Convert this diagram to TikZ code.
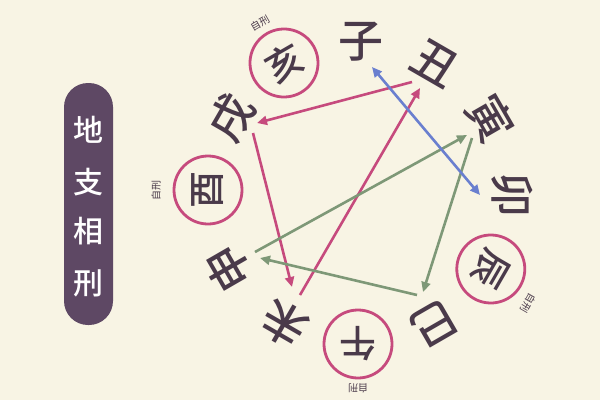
\documentclass[tikz,border=0pt]{standalone}
\usepackage{fontspec}
\usetikzlibrary{arrows.meta}
\newfontfamily\cjk{Noto Sans CJK SC}
\newfontfamily\cjkm{Noto Sans CJK SC}[UprightFont={* Medium}]
\definecolor{bg}{HTML}{F8F4E4}
\definecolor{ink}{HTML}{4A3A4A}
\definecolor{boxc}{HTML}{5E4864}
\definecolor{pinkc}{HTML}{C64A7D}
\definecolor{greenc}{HTML}{7E9877}
\definecolor{bluec}{HTML}{6A7FCF}
\begin{document}
\begin{tikzpicture}[x=1pt,y=-1pt,
  zhi/.style={font=\cjkm\fontsize{45}{45}\selectfont, text=ink, inner sep=0pt},
  zhic/.style={circle, draw=pinkc, line width=2.8pt, minimum size=68pt, inner sep=0pt,
    font=\cjkm\fontsize{37}{37}\selectfont, text=ink},
  zx/.style={font=\cjk\fontsize{10}{10}\selectfont, text=ink, inner sep=0pt},
  ttl/.style={font=\cjkm\fontsize{30}{30}\selectfont, text=white},
  arr/.style={line width=2.6pt, -{Triangle[length=10pt,width=9pt]}},
  darr/.style={line width=2.6pt, {Triangle[length=10pt,width=9pt]}-{Triangle[length=10pt,width=9pt]}}]
\fill[bg] (0,0) rectangle (600,400);
\useasboundingbox (0,0) rectangle (600,400);

% title
\node (title) [fill=boxc, rounded corners=24pt, minimum width=49pt, minimum height=242pt,
  inner sep=0pt] at (88.5,204) {};
\node (t1) [ttl] at (88.5,130) {地};
\node (t2) [ttl] at (88.5,182) {支};
\node (t3) [ttl] at (88.5,231) {相};
\node (t4) [ttl] at (88.5,283) {刑};

% branches
\node (zi)   [zhi, rotate=0]    at (361,42) {子};
\node (chou) [zhi, rotate=-30]  at (435.5,63) {丑};
\node (yin)  [zhi, rotate=-60]  at (490.8,118) {寅};
\node (mao)  [zhi, rotate=-90]  at (512,195) {卯};
\node (chen) [zhic, rotate=-120] at (490.8,269) {辰};
\node (si)   [zhi, rotate=-150] at (434,323.8) {巳};
\node (wu)   [zhic, rotate=180] at (358,344) {午};
\node (wei)  [zhi, rotate=150]  at (284.5,323.8) {未};
\node (shen) [zhi, rotate=120]  at (228,268.5) {申};
\node (you)  [zhic, rotate=90]  at (208,190) {酉};
\node (xu)   [zhi, rotate=60]   at (231,117.5) {戌};
\node (hai)  [zhic, rotate=30]  at (284,63) {亥};

% self-punishment labels
\node (hx) [zx, rotate=30]   at (260,23) {自刑};
\node (yx) [zx, rotate=90]   at (156,190) {自刑};
\node (wx) [zx, rotate=180]  at (358,388) {自刑};
\node (cx) [zx, rotate=-120] at (528,303) {自刑};

% arrow end points
\coordinate (chouA) at (412,82);
\coordinate (xuA)   at (257,123);
\coordinate (xuB)   at (253,133);
\coordinate (weiA)  at (292,287);
\coordinate (weiB)  at (300,295);
\coordinate (chouB) at (420,88);
\coordinate (shenA) at (255,252);
\coordinate (yinA)  at (467,135);
\coordinate (yinB)  at (472,138);
\coordinate (siA)   at (423,292);
\coordinate (siB)   at (417,295);
\coordinate (shenB) at (260,258);
\coordinate (ziA)   at (372,67);
\coordinate (maoA)  at (480,195);

\draw[arr, pinkc] (chouA) -- (xuA);
\draw[arr, pinkc] (xuB) -- (weiA);
\draw[arr, pinkc] (weiB) -- (chouB);
\draw[arr, greenc] (shenA) -- (yinA);
\draw[arr, greenc] (yinB) -- (siA);
\draw[arr, greenc] (siB) -- (shenB);
\draw[darr, bluec] (ziA) -- (maoA);
\end{tikzpicture}
\end{document}
